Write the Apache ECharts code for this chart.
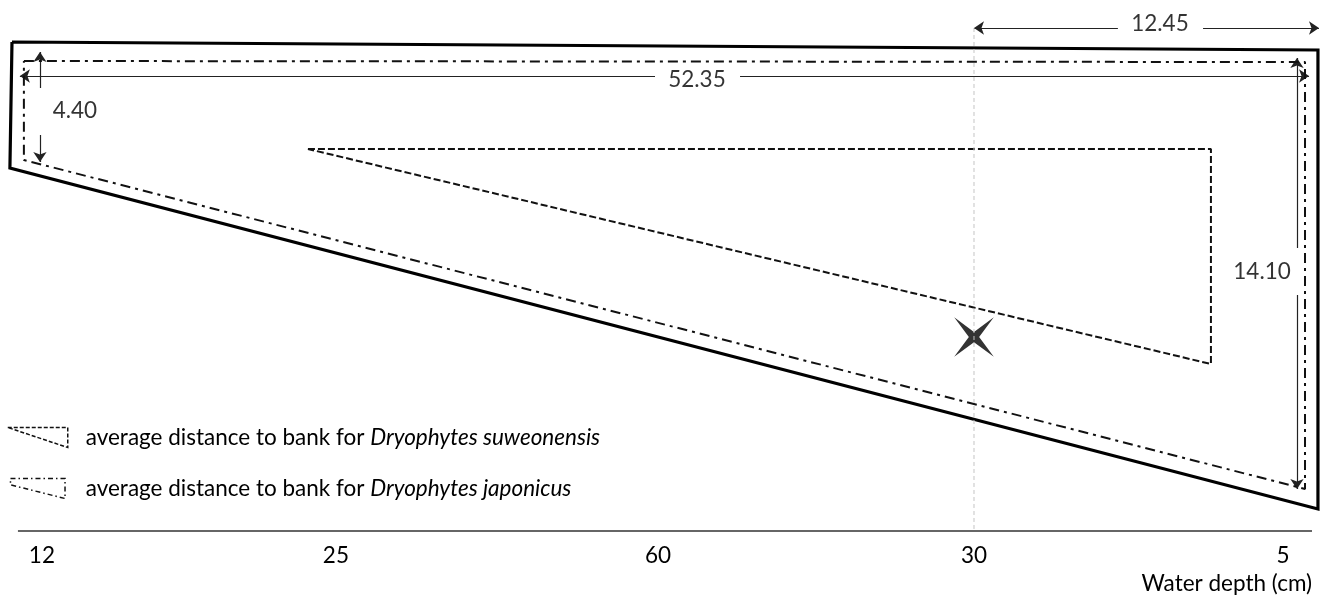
<!DOCTYPE html>
<html><head><meta charset="utf-8">
<script src="https://cdn.jsdelivr.net/npm/echarts@6/dist/echarts.min.js"></script>
<style>html,body{margin:0;padding:0;background:#fff}#c{width:1326px;height:598px}</style>
</head><body><div id="c"></div>
<script>
// Schematic frame: x 0–100 along the depth axis line, y 0–100 from the top down to the depth axis
const depthLabels = ['12', '25', '60', '30', '5'];
const depthPos = [1.85, 24.57, 49.46, 73.88, 97.76];
const baselineX = [0, 100];
const baselineY = 100;

const outlineX = [-0.46, 100.46, 100.46, -0.62, -0.46];
const outlineY = [7.91, 9.42, 95.86, 31.64, 7.91];
const japonicusX = [0.46, 99.46, 99.46, 0.46, 0.46];
const japonicusY = [11.49, 11.68, 92.09, 30.13, 11.49];
const suweonensisX = [22.41, 92.19, 92.19, 22.41];
const suweonensisY = [28.06, 28.06, 68.55, 28.06];

const dimLabels = ['52.35', '12.45', '4.40', '14.10'];
const dimFrom = [[0.15, 14.31], [73.88, 5.27], [1.70, 9.79], [98.84, 10.92]];
const dimTo = [[99.77, 14.31], [100.54, 5.27], [1.70, 30.51], [98.84, 92.09]];
const dimGap = [[49.23, 55.80], [85.0, 91.58], [16.57, 25.42], [46.70, 55.56]];
const dimLabelAt = [[52.47, 15.07], [88.25, 4.52], [4.40, 20.9], [96.14, 51.22]];

const markerStation = 3;
const markerY = 63.47;
const guideY = [5.27, 100];

const FONT = 'Lato, "Open Sans", sans-serif';
const TXT = '#000';
const FS = 22.5;

const zip = (xs, ys) => xs.map((x, i) => [x, ys[i]]);

// dimension arrow pieces (gap left for the label)
const dimPieces = [];
dimFrom.forEach((f, i) => {
  const t = dimTo[i], g = dimGap[i];
  const horiz = f[1] === t[1];
  const p = v => horiz ? [v, f[1]] : [f[0], v];
  dimPieces.push({ coords: [p(g[0]), f] });
  dimPieces.push({ coords: [p(g[1]), t] });
});

const chart = echarts.init(document.getElementById('c'), null, { renderer: 'canvas' });
chart.setOption({
  animation: false,
  backgroundColor: '#fff',
  grid: { left: 5, right: 3, top: 0, bottom: 67, containLabel: false },
  xAxis: {
    type: 'value', min: -1, max: 100.85, position: 'bottom',
    axisLine: { show: false, onZero: false },
    axisTick: { show: false },
    splitLine: { show: false },
    axisLabel: {
      customValues: depthPos,
      formatter: v => { const i = depthPos.indexOf(v); return i >= 0 ? depthLabels[i] : ''; },
      margin: 13, fontSize: FS, color: TXT, fontFamily: FONT
    },
    name: 'Water depth (cm)', nameLocation: 'end', nameGap: -11,
    nameTextStyle: { align: 'right', verticalAlign: 'top', padding: [41, 0, 0, 0], fontSize: FS, color: TXT, fontFamily: FONT }
  },
  yAxis: { type: 'value', min: 0, max: 100, inverse: true, show: false },
  legend: {
    orient: 'vertical', left: 7, top: 426, padding: 0, itemWidth: 60, itemHeight: 20, itemGap: 28,
    selectedMode: false,
    data: [
      { name: 'suweonensis', icon: 'path://M0,0 L60,0 L60,20 Z',
        itemStyle: { color: 'rgba(0,0,0,0)', borderColor: '#111', borderWidth: 1.5, borderType: [4, 2] } },
      { name: 'japonicus', icon: 'path://M0,0 L60,0 L60,22 L0,7 Z',
        itemStyle: { color: 'rgba(0,0,0,0)', borderColor: '#111', borderWidth: 1.5, borderType: [5, 3, 1.5, 3] } }
    ],
    formatter: n => '{n|average distance to bank for }{i|Dryophytes ' + n + '}',
    textStyle: {
      padding: [0, 0, 0, 13],
      rich: {
        n: { fontSize: FS, fontFamily: FONT, color: TXT, lineHeight: 26 },
        i: { fontSize: FS, fontFamily: FONT, color: TXT, fontStyle: 'italic', lineHeight: 26 }
      }
    }
  },
  series: [
    { name: 'baseline', type: 'line', data: baselineX.map(x => [x, baselineY]), symbol: 'none', clip: false, silent: true,
      lineStyle: { color: '#333', width: 1.3 } },
    { name: 'outline', type: 'line', data: zip(outlineX, outlineY), symbol: 'none', clip: false, silent: true,
      lineStyle: { color: '#000', width: 3.2, join: 'miter' } },
    { name: 'japonicus', type: 'line', data: zip(japonicusX, japonicusY), symbol: 'none', clip: false, silent: true,
      itemStyle: { color: '#111' },
      lineStyle: { color: '#111', width: 2, type: [10, 5, 3, 5] } },
    { name: 'suweonensis', type: 'line', data: zip(suweonensisX, suweonensisY), symbol: 'none', clip: false, silent: true,
      itemStyle: { color: '#111' },
      lineStyle: { color: '#111', width: 2, type: [7, 3] } },
    { name: 'guide', type: 'line', data: guideY.map(y => [depthPos[markerStation], y]), symbol: 'none', clip: false, silent: true,
      lineStyle: { color: '#c4c4c4', width: 1, type: [4, 3] } },
    { name: 'dimensions', type: 'lines', coordinateSystem: 'cartesian2d', data: dimPieces, clip: false, silent: true,
      symbol: ['none', 'arrow'], symbolSize: [8, 10],
      lineStyle: { color: '#222', width: 1.2, opacity: 1, curveness: 0 } },
    { name: 'dimLabels', type: 'scatter', data: dimLabelAt.map((p, i) => ({ value: p, label: { formatter: dimLabels[i] } })),
      symbolSize: 0, clip: false, silent: true,
      label: { show: true, position: 'inside', fontSize: FS, fontFamily: FONT, color: TXT } },
    { name: 'marker', type: 'scatter', data: [[depthPos[markerStation], markerY]], clip: false, silent: true,
      symbol: 'path://M0,-20 L2.6,-2.6 L20,0 L2.6,2.6 L0,20 L-2.6,2.6 L-20,0 L-2.6,-2.6 Z', symbolSize: 56, symbolRotate: 45,
      itemStyle: { color: '#000' } }
  ]
});
</script></body></html>
